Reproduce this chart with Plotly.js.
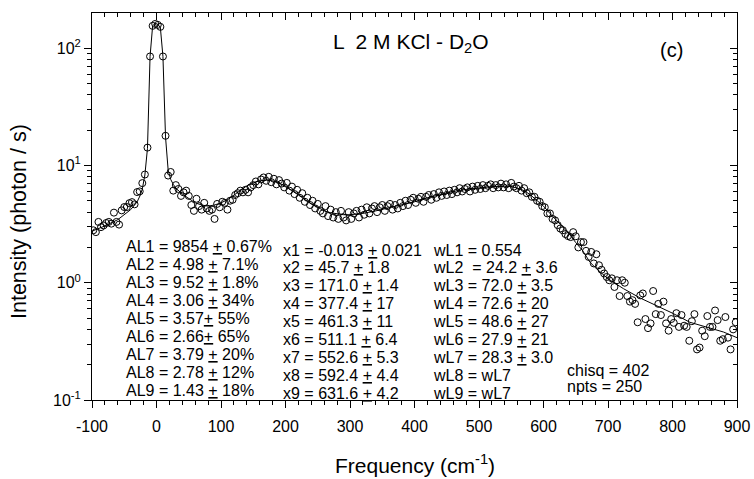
<!DOCTYPE html>
<html>
<head>
<meta charset="utf-8">
<script src="https://cdn.plot.ly/plotly-3.0.1.min.js"></script>
<style>html,body{margin:0;padding:0;background:#fff;}#chart{width:754px;height:479px;}</style>
</head>
<body>
<div id="chart"></div>
<script>
// Measured data points (frequency, intensity)
var freq = [
-98,-94,-90,-86,-82,-78,-74,-70,-66,-62,
-58,-54,-50,-46,-42,-38,-34,-30,-26,-22,
-18,-14,-10,-6,-2,2,6,10,14,18,
22,26,30,34,38,42,46,50,54,58,
62,66,70,74,78,82,86,90,94,98,
102,106,110,114,118,122,126,130,134,138,
142,146,150,154,158,162,166,170,174,178,
182,186,190,194,198,202,206,210,214,218,
222,226,230,234,238,242,246,250,254,258,
262,266,270,274,278,282,286,290,294,298,
302,306,310,314,318,322,326,330,334,338,
342,346,350,354,358,362,366,370,374,378,
382,386,390,394,398,402,406,410,414,418,
422,426,430,434,438,442,446,450,454,458,
462,466,470,474,478,482,486,490,494,498,
502,506,510,514,518,522,526,530,534,538,
542,546,550,554,558,562,566,570,574,578,
582,586,590,594,598,602,606,610,614,618,
622,626,630,634,638,642,646,650,654,658,
662,666,670,674,678,682,686,690,694,698,
702,706,710,714,718,722,726,730,734,738,
742,746,750,754,758,762,766,770,774,778,
782,786,790,794,798,802,806,810,814,818,
822,826,830,834,838,842,846,850,854,858,
862,866,870,874,878,882,886,890,894,898];
var intensity = [
2.80,2.70,3.30,2.98,3.08,3.23,3.30,3.19,3.96,3.30,
3.13,4.14,4.42,4.42,4.77,4.87,4.66,5.93,6.01,7.07,
8.37,14.2,85,155,161,158,152,85,17.9,8.2,
8.8,6.1,6.8,6.3,5.5,5.9,6.1,5.5,4.6,4.1,
5.2,4.5,4.2,4.8,4.3,4.1,4.2,3.5,4.7,4.4,
4.9,4.8,4.2,5.0,5.1,5.6,5.8,6.1,5.9,6.2,
5.9,6.5,6.8,7.3,6.9,7.6,7.9,7.4,8.0,7.2,
7.7,6.9,7.5,7.0,6.5,7.1,6.1,6.6,5.7,6.2,
5.3,5.8,4.9,5.3,4.6,5.0,4.3,4.7,4.1,3.9,
4.5,3.7,4.2,3.6,4.0,3.5,4.1,3.6,3.4,4.0,
3.5,3.9,4.1,3.6,4.2,3.8,4.4,3.9,4.3,4.5,
4.0,4.4,4.6,4.1,4.5,4.7,4.2,4.6,4.3,4.8,
4.5,5.0,4.6,5.1,5.3,4.8,5.2,5.4,4.9,5.4,
5.6,5.1,5.7,5.3,5.9,5.5,6.0,5.6,6.1,5.7,
6.2,5.9,6.4,6.0,6.3,6.5,6.0,6.6,6.2,6.7,
6.3,6.8,6.4,6.7,6.9,6.4,6.8,6.5,7.0,6.5,
6.9,6.4,7.1,6.6,6.4,6.7,6.1,6.4,5.8,5.9,
5.4,5.4,5.0,4.9,4.5,4.4,3.9,3.9,3.5,3.4,
3.1,2.9,2.8,2.6,2.5,2.45,2.7,2.49,2.0,2.22,
2.22,1.87,1.66,1.83,1.46,1.75,1.41,1.29,1.20,1.12,
1.05,1.09,0.92,1.05,0.77,1.05,1.0,0.77,0.69,0.71,
0.66,0.46,0.78,0.81,0.49,0.41,0.45,0.85,0.54,0.66,
0.53,0.69,0.45,0.39,0.49,0.455,0.55,0.42,0.53,0.43,
0.42,0.32,0.47,0.54,0.27,0.28,0.39,0.35,0.52,0.42,
0.42,0.58,0.48,0.32,0.33,0.51,0.34,0.27,0.40,0.46];

// Fit curve
var fitFreq = [-100,-80,-60,-40,-30,-25,-22,-18,-14,-10,-6,-2,2,6,10,14,18,22,26,30,40,50,60,70,80,90,100,110,120,130,140,150,160,170,180,190,200,210,220,230,240,250,260,270,280,290,300,320,340,360,380,400,420,440,460,480,500,520,540,550,560,570,580,590,600,610,620,630,640,650,660,672,680,700,724,750,775,800,827,850,879,900];
var fitInt = [2.75,3.05,3.45,4.2,4.9,5.6,6.3,8.3,14,85,155,163,160,150,85,17.5,9.2,7.6,6.9,6.4,5.7,5.2,4.8,4.6,4.5,4.6,4.8,5.1,5.6,6.2,6.7,7.1,7.4,7.5,7.4,7.1,6.6,6.1,5.6,5.1,4.7,4.4,4.1,3.95,3.85,3.8,3.8,3.9,4.1,4.35,4.6,4.9,5.3,5.65,6.0,6.25,6.45,6.6,6.65,6.6,6.4,6.1,5.6,5.05,4.5,3.9,3.4,2.95,2.6,2.2,1.9,1.5,1.35,1.08,0.89,0.74,0.64,0.55,0.46,0.42,0.38,0.34];

// Tick labels
var xTickVals = [-100,0,100,200,300,400,500,600,700,800,900];
var xTickText = ['-100','0','100','200','300','400','500','600','700','800','900'];
var yTickVals = [0.1,1,10,100];
var yTickText = ['10<sup>-1</sup>','10<sup>0</sup>','10<sup>1</sup>','10<sup>2</sup>'];

// Fit parameter text
var colAL = ['AL1 = 9854 <u>+</u> 0.67%','AL2 = 4.98 <u>+</u> 7.1%','AL3 = 9.52 <u>+</u> 1.8%','AL4 = 3.06 <u>+</u> 34%','AL5 = 3.57<u>+</u> 55%','AL6 = 2.66<u>+</u> 65%','AL7 = 3.79 <u>+</u> 20%','AL8 = 2.78 <u>+</u> 12%','AL9 = 1.43 <u>+</u> 18%'];
var colX = ['x1 = -0.013 <u>+</u> 0.021','x2 = 45.7 <u>+</u> 1.8','x3 = 171.0 <u>+</u> 1.4','x4 = 377.4 <u>+</u> 17','x5 = 461.3 <u>+</u> 11','x6 = 511.1 <u>+</u> 6.4','x7 = 552.6 <u>+</u> 5.3','x8 = 592.4 <u>+</u> 4.4','x9 = 631.6 <u>+</u> 4.2'];
var colW = ['wL1 = 0.554','wL2 \u00a0= 24.2 <u>+</u> 3.6','wL3 = 72.0 <u>+</u> 3.5','wL4 = 72.6 <u>+</u> 20','wL5 = 48.6 <u>+</u> 27','wL6 = 27.9 <u>+</u> 21','wL7 = 28.3 <u>+</u> 3.0','wL8 = wL7','wL9 = wL7'];
var colStats = ['chisq = 402','npts = 250'];

var FONT = 'Liberation Sans, Arial, sans-serif';
var L = 92, R = 737, T = 13, B = 400;
function px(x){ return (x - L) / (R - L); }
function py(y){ return (B - y) / (B - T); }

function minorLog(){ var v=[]; for (var d=-1; d<=2; d++){ for (var k=2;k<=9;k++){ v.push(k*Math.pow(10,d)); } } return v; }
function minorLin(){ var v=[]; for (var t=-100; t<=900; t+=20){ if ((t+100)%100!==0) v.push(t); } return v; }

var annotations = [];
function addText(txt, xp, yp, size, anchor){
  annotations.push({text: txt, xref:'paper', yref:'paper', x: px(xp), y: py(yp), xanchor: anchor||'left', yanchor:'middle', showarrow:false, font:{family:FONT, size:size, color:'#000'}});
}
colAL.forEach(function(t,i){ addText(t, 124, 246.7 + 18*i, 16); });
colX.forEach(function(t,i){ addText(t, 281, 250 + 17.875*i, 16); });
colW.forEach(function(t,i){ addText(t, 431, 250 + 17.875*i, 16); });
colStats.forEach(function(t,i){ addText(t, 565, 370 + 16.7*i, 16); });
addText('L \u00a02 M KCl - D<sub>2</sub>O', 331, 43, 21);
addText('(c)', 658, 50, 20);
addText('Frequency (cm<sup>-1</sup>)', 414.5, 464, 21, 'center');
annotations.push({text:'Intensity (photon / s)', xref:'paper', yref:'paper', x: px(19), y: py(222), xanchor:'center', yanchor:'middle', textangle:-90, showarrow:false, font:{family:FONT, size:21.5, color:'#000'}});

var axCommon = {showgrid:false, zeroline:false, showline:true, linecolor:'#000', linewidth:1, tickcolor:'#000', tickwidth:1, ticklen:7, tickfont:{family:FONT, size:16, color:'#000'}};

var layout = {
  width:754, height:479, margin:{l:L, r:754-R, t:T, b:479-B},
  paper_bgcolor:'#fff', plot_bgcolor:'#fff', showlegend:false,
  xaxis: Object.assign({}, axCommon, {range:[-100,900], tickmode:'array', tickvals:xTickVals, ticktext:xTickText, ticks:'outside', ticklabelstandoff:5,
    minor:{tickmode:'array', tickvals:minorLin(), ticks:'outside', ticklen:4, tickcolor:'#000', tickwidth:1}}),
  xaxis2: Object.assign({}, axCommon, {range:[-100,900], overlaying:'x', side:'top', tickmode:'array', tickvals:xTickVals, showticklabels:false, ticks:'inside',
    minor:{tickmode:'array', tickvals:minorLin(), ticks:'inside', ticklen:4, tickcolor:'#000', tickwidth:1}}),
  yaxis: Object.assign({}, axCommon, {type:'log', range:[-1,2.3], tickmode:'array', tickvals:yTickVals, ticktext:yTickText, ticks:'outside',
    minor:{tickmode:'array', tickvals:minorLog(), ticks:'outside', ticklen:4, tickcolor:'#000', tickwidth:1}}),
  yaxis2: Object.assign({}, axCommon, {type:'log', range:[-1,2.3], overlaying:'y', side:'right', tickmode:'array', tickvals:yTickVals, showticklabels:false, ticks:'inside',
    minor:{tickmode:'array', tickvals:minorLog(), ticks:'inside', ticklen:4, tickcolor:'#000', tickwidth:1}}),
  annotations: annotations
};

var traces = [
  {x: fitFreq, y: fitInt, mode:'lines', line:{color:'#000', width:1}, hoverinfo:'skip'},
  {x: freq, y: intensity, mode:'markers', marker:{symbol:'circle-open', size:7, color:'#000', line:{width:1, color:'#000'}}, hoverinfo:'skip'},
  {x: fitFreq, y: fitInt, xaxis:'x2', yaxis:'y2', mode:'lines', line:{color:'rgba(0,0,0,0)', width:0}, hoverinfo:'skip'}
];

Plotly.newPlot('chart', traces, layout, {staticPlot:true});
</script>
</body>
</html>
